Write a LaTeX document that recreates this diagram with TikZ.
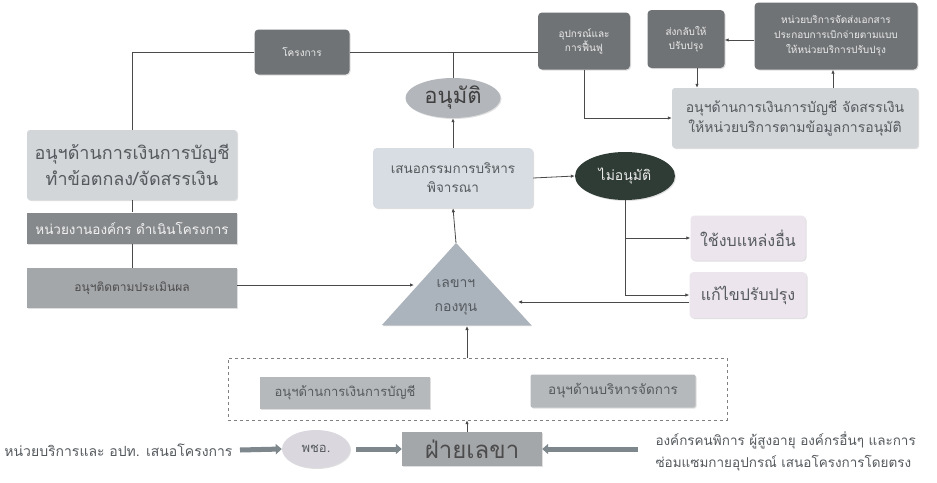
\documentclass[tikz,border=0pt]{standalone}
\usepackage{fontspec}
\setmainfont{Loma}[Script=Thai]
\newfontfamily\thai[Script=Thai]{Loma}
\usetikzlibrary{arrows.meta,shapes.geometric,shadows,calc}
\definecolor{dkbox}{HTML}{707375}
\definecolor{ltbox}{HTML}{D3D6D9}
\definecolor{bluebox}{HTML}{D8DDE3}
\definecolor{pinkbox}{HTML}{ECE5EE}
\definecolor{midbox}{HTML}{A4A7AA}
\definecolor{darkmid}{HTML}{86898B}
\definecolor{trifill}{HTML}{ABB3BC}
\definecolor{noell}{HTML}{2F3B35}
\definecolor{okell}{HTML}{B3B6BA}
\definecolor{pcell}{HTML}{DAD7DF}
\definecolor{linecol}{HTML}{4A4A4A}
\definecolor{thickcol}{HTML}{7D878C}
\definecolor{txtcol}{HTML}{555A5E}
\tikzset{
  base/.style={inner sep=1pt, align=center, text=txtcol, drop shadow={opacity=0.25, shadow xshift=1pt, shadow yshift=-1pt}},
  darkbox/.style={base, rectangle, rounded corners=4pt, fill=dkbox, text=white!85!gray, font=\thai\fontsize{10}{14}\selectfont},
  lightbox/.style={base, rectangle, rounded corners=3pt, fill=ltbox},
  conn/.style={draw=linecol, line width=0.8pt},
  arr/.style={conn, -{Latex[length=4pt,width=3.5pt]}},
  thickarr/.style={draw=thickcol, line width=5pt, -{Triangle[length=6pt,width=10pt]}},
}
\begin{document}
\begin{tikzpicture}[x=1pt,y=-1pt]
\useasboundingbox (0,0) rectangle (937,482);
\fill[white] (0,0) rectangle (937,482);
% top row
\node[darkbox, minimum width=95, minimum height=45] (proj) at (302,52) {โครงการ};
\node[darkbox, minimum width=92, minimum height=57] (equip) at (584,41) {อุปกรณ์และ\\การฟื้นฟู};
\node[darkbox, minimum width=77, minimum height=58] (ret) at (686,39) {ส่งกลับให้\\ปรับปรุง};
\node[darkbox, minimum width=163, minimum height=67, font=\thai\fontsize{10}{15}\selectfont] (unit) at (836,36) {หน่วยบริการจัดส่งเอกสาร\\ประกอบการเบิกจ่ายตามแบบ\\ให้หน่วยบริการปรับปรุง};
\node[lightbox, minimum width=246, minimum height=60, font=\thai\fontsize{14}{20}\selectfont] (alloc) at (795,118) {อนุฯด้านการเงินการบัญชี จัดสรรเงิน\\ให้หน่วยบริการตามข้อมูลการอนุมัติ};
% middle
\node[base, ellipse, fill=okell, minimum width=95, minimum height=40, text=black!75, font=\thai\fontsize{22}{24}\selectfont] (ok) at (453,98) {อนุมัติ};
\node[base, rectangle, rounded corners=4pt, fill=bluebox, minimum width=160, minimum height=60, font=\thai\fontsize{13.5}{19}\selectfont] (board) at (453,178) {เสนอกรรมการบริหาร\\พิจารณา};
\node[base, ellipse, fill=noell, minimum width=100, minimum height=48, text=white!85!gray, font=\thai\fontsize{14}{16}\selectfont] (no) at (625,176) {ไม่อนุมัติ};
\node[base, rectangle, rounded corners=4pt, fill=pinkbox, minimum width=115, minimum height=45, font=\thai\fontsize{16}{18}\selectfont] (other) at (748,238) {ใช้งบแหล่งอื่น};
\node[base, rectangle, rounded corners=4pt, fill=pinkbox, minimum width=117, minimum height=46, font=\thai\fontsize{16}{18}\selectfont] (fix) at (748,295) {แก้ไขปรับปรุง};
% triangle
\coordinate (tA) at (456,243);
\coordinate (tL) at (382,325);
\coordinate (tR) at (531,325);
\fill[black, opacity=0.2] ($(tL)+(1,1)$) -- ($(tA)+(1,1)$) -- ($(tR)+(1,1)$) -- cycle;
\fill[trifill] (tL) -- (tA) -- (tR) -- cycle;
\node[align=center, text=txtcol, font=\thai\fontsize{14}{24}\selectfont] (sec) at (456,297) {เลขาฯ\\กองทุน};
\coordinate (triL) at (414,285);
\coordinate (triR) at (518,302);
\coordinate (triB) at (467,326);
% left column
\node[lightbox, minimum width=210, minimum height=70, font=\thai\fontsize{18}{26}\selectfont] (fin) at (132,165) {อนุฯด้านการเงินการบัญชี\\ทำข้อตกลง/จัดสรรเงิน};
\node[base, rectangle, fill=darkmid, minimum width=210, minimum height=31, text=white!90!gray, font=\thai\fontsize{13.5}{15}\selectfont] (org) at (132,228) {หน่วยงานองค์กร ดำเนินโครงการ};
\node[base, rectangle, fill=midbox, minimum width=210, minimum height=40, text=black!70, font=\thai\fontsize{12}{14}\selectfont] (eval) at (132,288) {อนุฯติดตามประเมินผล};
% dashed group
\node[draw=gray, dashed, minimum width=499, minimum height=62, inner sep=0pt] (grp) at (477.5,389) {};
\node[base, rectangle, fill=midbox!80, minimum width=170, minimum height=32, font=\thai\fontsize{13}{15}\selectfont] (subfin) at (345,393) {อนุฯด้านการเงินการบัญชี};
\node[base, rectangle, rounded corners=2pt, fill=midbox!80, minimum width=165, minimum height=33, font=\thai\fontsize{13.5}{15}\selectfont] (submgt) at (613,391) {อนุฯด้านบริหารจัดการ};
% bottom row
\node[base, rectangle, fill=midbox, minimum width=140, minimum height=34, text=black!70, font=\thai\fontsize{24}{26}\selectfont] (secr) at (472,449) {ฝ่ายเลขา};
\node[base, ellipse, fill=pcell, minimum width=68, minimum height=38, font=\thai\fontsize{13}{15}\selectfont] (pcho) at (316,449) {พชอ.};
\node[anchor=east, text=txtcol, font=\thai\fontsize{14}{16}\selectfont] (src1) at (236,450) {หน่วยบริการและ อปท. เสนอโครงการ};
\node[anchor=west, align=left, text=txtcol, font=\thai\fontsize{13.5}{22}\selectfont] (src2) at (652,451) {องค์กรคนพิการ ผู้สูงอายุ องค์กรอื่นๆ และการ\\ซ่อมแซมกายอุปกรณ์ เสนอโครงการโดยตรง};
% connectors
\draw[conn] (proj.west) -| (fin.north);
\draw[conn] (proj.east) -- (proj.east -| equip.west);
\draw[conn] (ok.north) -- (ok.north |- proj.east);
\draw[arr] (board.north) -- (ok.south);
\draw[arr] (tA) -- (board.south);
\draw[arr] (board.east) -- (no.west);
\draw[conn] (no.south) -- (no.south |- fix.west);
\draw[arr] (no.south |- fix.west) -- (fix.west);
\draw[arr] (no.south |- other.west) -- (other.west);
\draw[arr] (fix.west |- triR) -- (triR);
\draw[conn] (fin.south) -- (org.north);
\draw[conn] (org.south) -- (eval.north);
\draw[arr] (eval.east |- triL) -- (triL);
\draw[arr] (triB |- grp.north) -- (triB);
\draw[arr] (secr.north -| triB) -- (triB |- grp.south);
\draw[arr] (unit.west |- 0,40) -- (ret.east |- 0,40);
\draw[arr] (ret.south -| 697,0) -- (alloc.north -| 697,0);
\draw[arr] (alloc.north -| 833,0) -- (unit.south -| 833,0);
\draw[arr] (equip.south) |- (alloc.west |- 0,118);
\draw[thickarr] (src1.east) ++(4,0) -- (pcho.west);
\draw[thickarr] (pcho.east) ++(6,0) -- (secr.west);
\draw[thickarr] (src2.west |- secr.east) ++(-14,0) -- (secr.east);
\end{tikzpicture}
\end{document}
